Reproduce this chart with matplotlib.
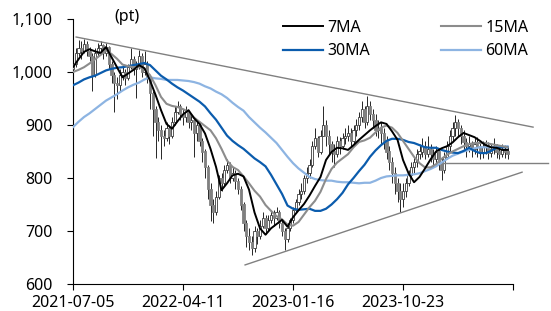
import numpy as np
import matplotlib
matplotlib.use('Agg')
import matplotlib.pyplot as plt
from matplotlib.ticker import FuncFormatter

plt.rcParams['font.family'] = ['Noto Sans', 'DejaVu Sans']

# weekly candles, first week = 2021-07-05
first_open = 1005
close = [1015, 1035, 1045, 1040, 1052, 1040, 1030, 995, 1035, 1045,
         1050, 1035, 1048, 1015, 995, 980, 975, 995, 1000, 988,
         1010, 1025, 1005, 1012, 1030, 1000, 1015, 990, 960, 930,
         905, 890, 880, 875, 895, 880, 905, 925, 935, 920,
         915, 925, 905, 910, 885, 900, 870, 850, 820, 780,
         750, 735, 765, 800, 790, 815, 825, 800, 810, 795,
         780, 750, 715, 690, 680, 668, 700, 690, 710, 725,
         705, 720, 730, 725, 735, 715, 700, 685, 705, 720,
         740, 755, 770, 775, 800, 810, 825, 860, 875, 850,
         880, 900, 880, 865, 850, 845, 870, 860, 875, 880,
         885, 870, 890, 900, 915, 930, 905, 935, 920, 910,
         890, 895, 885, 870, 850, 830, 810, 790, 775, 760,
         775, 790, 805, 820, 830, 845, 850, 860, 845, 855,
         845, 835, 850, 830, 815, 840, 860, 880, 895, 905,
         895, 880, 868, 860, 865, 855, 865, 860, 850, 858,
         862, 848, 855, 860, 850, 845, 855, 850, 845]
high = [1040, 1045, 1060, 1058, 1062, 1058, 1048, 1035, 1045, 1055,
        1058, 1052, 1055, 1050, 1020, 1000, 990, 1005, 1010, 1005,
        1015, 1045, 1030, 1020, 1042, 1035, 1040, 1020, 995, 965,
        935, 915, 900, 890, 905, 900, 915, 935, 945, 940,
        930, 935, 925, 920, 912, 910, 905, 875, 855, 825,
        790, 760, 775, 805, 810, 825, 835, 830, 820, 815,
        800, 785, 755, 720, 705, 690, 710, 705, 720, 735,
        730, 730, 740, 740, 745, 740, 720, 705, 715, 725,
        745, 760, 780, 790, 805, 820, 835, 870, 895, 880,
        890, 935, 910, 890, 870, 865, 880, 878, 885, 895,
        900, 895, 900, 912, 925, 945, 935, 955, 945, 930,
        920, 910, 905, 895, 880, 860, 840, 820, 800, 790,
        790, 800, 815, 830, 840, 855, 865, 875, 870, 880,
        865, 855, 860, 855, 840, 850, 870, 890, 905, 919,
        912, 900, 890, 875, 880, 870, 875, 878, 868, 870,
        872, 868, 865, 875, 865, 860, 865, 862, 858]
low = [1000, 1010, 1030, 1025, 1035, 1030, 1020, 965, 990, 1030,
       1035, 1025, 1030, 1005, 980, 925, 950, 965, 985, 975,
       985, 1005, 995, 951, 1005, 990, 995, 980, 930, 880,
       838, 870, 835, 860, 870, 865, 875, 900, 920, 910,
       900, 905, 895, 890, 840, 870, 860, 830, 800, 760,
       718, 715, 730, 760, 775, 785, 810, 790, 795, 780,
       770, 740, 700, 670, 665, 655, 660, 675, 685, 705,
       695, 700, 715, 710, 720, 705, 690, 665, 680, 700,
       715, 735, 750, 760, 770, 790, 800, 820, 855, 840,
       845, 880, 860, 845, 830, 820, 840, 845, 855, 865,
       870, 860, 865, 880, 890, 905, 895, 900, 910, 895,
       880, 875, 865, 855, 835, 815, 790, 770, 755, 735,
       745, 765, 785, 800, 810, 820, 835, 840, 835, 840,
       830, 820, 825, 815, 796, 810, 835, 850, 870, 880,
       880, 865, 855, 840, 850, 840, 845, 840, 835, 838,
       845, 835, 840, 845, 838, 835, 840, 838, 835]

# moving averages read every 2 weeks
ma7 = [1009, 1024, 1038, 1043, 1039, 1036, 1047, 1028, 1009, 990,
       997, 1004, 1013, 1007, 984, 957, 928, 902, 893, 907,
       920, 928, 913, 902, 884, 855, 821, 777, 790, 805,
       808, 803, 778, 735, 705, 693, 705, 713, 721, 708,
       726, 739, 751, 767, 785, 802, 834, 849, 857, 856,
       853, 862, 872, 881, 890, 898, 905, 902, 888, 872,
       834, 809, 792, 802, 818, 835, 850, 856, 860, 867,
       877, 885, 881, 877, 870, 862, 858, 857, 853, 853]
ma15 = [1000, 1004, 1009, 1016, 1024, 1032, 1041, 1034, 1025, 1014,
        1011, 1009, 1009, 1006, 994, 975, 953, 940, 936, 934,
        930, 925, 914, 906, 898, 890, 875, 855, 833, 821,
        815, 803, 790, 776, 765, 749, 738, 728, 722, 712,
        710, 717, 731, 745, 757, 774, 798, 817, 829, 837,
        845, 858, 868, 871, 876, 886, 895, 899, 895, 885,
        870, 855, 840, 828, 820, 820, 826, 836, 844, 850,
        855, 860, 864, 866, 866, 866, 864, 862, 860, 858]
ma30 = [975, 980, 986, 990, 993, 998, 1003, 1006, 1008, 1009,
        1011, 1013, 1015, 1017, 1013, 1003, 993, 986, 978, 971,
        965, 958, 951, 944, 935, 922, 910, 895, 880, 870,
        862, 855, 846, 837, 830, 822, 806, 788, 770, 748,
        742, 740, 741, 742, 738, 738, 742, 750, 760, 772,
        788, 800, 813, 825, 840, 852, 862, 870, 874, 874,
        872, 868, 866, 862, 858, 857, 857, 853, 850, 848,
        847, 851, 857, 851, 847, 847, 851, 857, 858, 858]
ma60 = [896, 906, 915, 922, 930, 938, 946, 952, 958, 965,
        971, 976, 980, 986, 990, 988, 987, 985, 985, 985,
        984, 983, 981, 978, 973, 969, 963, 958, 951, 942,
        934, 927, 915, 905, 895, 886, 876, 866, 853, 840,
        828, 818, 810, 802, 798, 796, 795, 795, 793, 792,
        792, 791, 790, 791, 791, 795, 800, 803, 804, 805,
        805, 806, 807, 809, 813, 817, 822, 829, 836, 842,
        846, 850, 853, 856, 858, 858, 858, 858, 859, 860]

# trend lines (days since 2021-07-05, value)
upper_days, upper_vals = [8, 1171], [1066, 896]
lower_days, lower_vals = [438, 1143], [636, 811]
flat_days, flat_vals = [942, 1209], [828, 828]

tick_days = [0, 280, 560, 840, 1120]
tick_labels = ['2021-07-05', '2022-04-11', '2023-01-16', '2023-10-23', '']

close = np.array(close, dtype=float)
high = np.array(high, dtype=float)
low = np.array(low, dtype=float)
opens = np.r_[first_open, close[:-1]]
x = np.arange(len(close)) * 7
ma_x = np.arange(0, len(close), 2) * 7

fig = plt.figure(figsize=(5.51, 3.11), dpi=100)
ax = fig.add_axes([73 / 551, 27 / 311, 475 / 551, 265 / 311])

up = close >= opens
body_lo = np.minimum(opens, close)
body_h = np.maximum(np.abs(close - opens), 2)
ax.vlines(x, low, high, color='#262626', lw=0.7, zorder=2)
ax.bar(x[up], body_h[up], bottom=body_lo[up], width=5.6, color='white',
       edgecolor='#3a3a3a', linewidth=0.6, zorder=3)
ax.bar(x[~up], body_h[~up], bottom=body_lo[~up], width=5.6, color='#808080',
       edgecolor='#808080', linewidth=0.6, zorder=3)

l60, = ax.plot(ma_x, ma60, color='#8db4e2', lw=1.6, zorder=4, label='60MA')
l30, = ax.plot(ma_x, ma30, color='#0b5cad', lw=1.6, zorder=4, label='30MA')
l15, = ax.plot(ma_x, ma15, color='#8c8c8c', lw=1.5, zorder=5, label='15MA')
l7, = ax.plot(ma_x, ma7, color='black', lw=1.4, zorder=6, label='7MA')

for d, v in [(upper_days, upper_vals), (lower_days, lower_vals), (flat_days, flat_vals)]:
    ax.plot(d, v, color='#808080', lw=1.0, zorder=7, clip_on=False)

ax.set_xlim(0, 1209)
ax.set_ylim(600, 1100)
ax.set_yticks(range(600, 1101, 100))
ax.yaxis.set_major_formatter(FuncFormatter(lambda v, p: f'{int(v):,}'))
ax.set_xticks(tick_days)
ax.set_xticklabels(tick_labels)
ax.tick_params(axis='y', direction='out', length=4, width=0.8, pad=11, labelsize=11.5)
ax.tick_params(axis='x', direction='out', length=4, width=0.8, pad=4, labelsize=11.5)
ax.spines['top'].set_visible(False)
ax.spines['right'].set_visible(False)
ax.spines['bottom'].set_bounds(0, 1120)
for s in ['left', 'bottom']:
    ax.spines[s].set_linewidth(0.8)

fig.text(127 / 551, 1 - 17 / 311, '(pt)', ha='center', va='center', fontsize=11.5)

fig.legend([l7, l30, l15, l60], ['7MA', '30MA', '15MA', '60MA'], ncol=2,
           loc='upper left', bbox_to_anchor=(283 / 551, 1 - 20 / 311),
           frameon=False, fontsize=11.5, handlelength=2.5, handletextpad=0.3,
           columnspacing=4.4, labelspacing=0.45, borderpad=0, borderaxespad=0)

fig.savefig('out.png', dpi=100)
